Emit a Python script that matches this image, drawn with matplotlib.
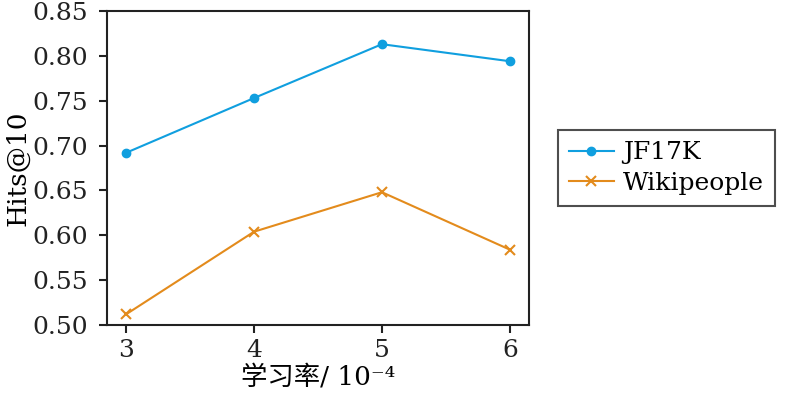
import matplotlib
matplotlib.use("Agg")
import matplotlib.pyplot as plt

lr = [3, 4, 5, 6]
jf17k = [0.692, 0.753, 0.813, 0.794]
wikipeople = [0.512, 0.604, 0.648, 0.584]
yticks = [0.50, 0.55, 0.60, 0.65, 0.70, 0.75, 0.80, 0.85]

plt.rcParams['font.family'] = ['DejaVu Serif', 'Noto Sans CJK SC', 'DejaVu Sans']

fig = plt.figure(figsize=(7.92, 3.96), dpi=100)
ax = fig.add_axes([107/792, 1-325/396, (529-107)/792, (325-11)/396])

ax.plot(lr, jf17k, color='#109fdf', marker='o', markersize=6, linewidth=1.5, label='JF17K')
ax.plot(lr, wikipeople, color='#e38b1c', marker='x', markersize=7, markeredgewidth=1.5,
        linewidth=1.5, label='Wikipeople')

ax.set_xlim(2.85, 6.15)
ax.set_ylim(0.50, 0.85)
ax.set_xticks(lr)
ax.set_yticks(yticks)
ax.set_yticklabels([f"{v:.2f}" for v in yticks])
ax.tick_params(direction='out', length=6, width=1.5, labelsize=18, colors='#222222')
ax.tick_params(axis='y', pad=8)
ax.tick_params(axis='x', pad=4)
for s in ax.spines.values():
    s.set_linewidth(1.5)
    s.set_color('#222222')

ax.set_ylabel('Hits@10', fontsize=19, labelpad=1)
ax.set_xlabel('学习率/ 10\u207b\u2074', fontsize=19, labelpad=2)

leg = ax.legend(loc='center left', bbox_to_anchor=(1.068, 0.5), fontsize=18, frameon=True,
                fancybox=False, edgecolor='#222222', handlelength=1.8, handletextpad=0.35,
                borderpad=0.45, labelspacing=0.3, borderaxespad=0)
leg.get_frame().set_linewidth(1.5)

fig.savefig('out.png', dpi=100)
